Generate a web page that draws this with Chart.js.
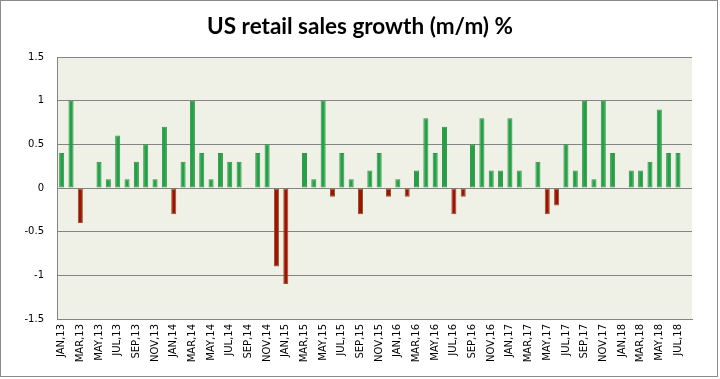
<!DOCTYPE html>
<html>
<head>
<meta charset="utf-8">
<title>US retail sales growth</title>
<script src="https://cdn.jsdelivr.net/npm/chart.js@4/dist/chart.umd.min.js"></script>
<style>
  html, body { margin: 0; padding: 0; background: #fff; }
  #wrap { width: 720px; height: 379px; }
</style>
</head>
<body>
<div id="wrap"><canvas id="myChart" width="720" height="379"></canvas></div>
<script>
'use strict';

// ******* DATA *******
let chartTitle = 'US retail sales growth (m/m) %';

let months = [
  'JAN,13', 'FEB,13', 'MAR,13', 'APR,13', 'MAY,13', 'JUN,13', 'JUL,13', 'AUG,13', 'SEP,13', 'OCT,13', 'NOV,13', 'DEC,13',
  'JAN,14', 'FEB,14', 'MAR,14', 'APR,14', 'MAY,14', 'JUN,14', 'JUL,14', 'AUG,14', 'SEP,14', 'OCT,14', 'NOV,14', 'DEC,14',
  'JAN,15', 'FEB,15', 'MAR,15', 'APR,15', 'MAY,15', 'JUN,15', 'JUL,15', 'AUG,15', 'SEP,15', 'OCT,15', 'NOV,15', 'DEC,15',
  'JAN,16', 'FEB,16', 'MAR,16', 'APR,16', 'MAY,16', 'JUN,16', 'JUL,16', 'AUG,16', 'SEP,16', 'OCT,16', 'NOV,16', 'DEC,16',
  'JAN,17', 'FEB,17', 'MAR,17', 'APR,17', 'MAY,17', 'JUN,17', 'JUL,17', 'AUG,17', 'SEP,17', 'OCT,17', 'NOV,17', 'DEC,17',
  'JAN,18', 'FEB,18', 'MAR,18', 'APR,18', 'MAY,18', 'JUN,18', 'JUL,18', 'AUG,18'
];

let growth = [
  0.4, 1.0, -0.4, 0, 0.3, 0.1, 0.6, 0.1, 0.3, 0.5, 0.1, 0.7,
  -0.3, 0.3, 1.0, 0.4, 0.1, 0.4, 0.3, 0.3, 0, 0.4, 0.5, -0.9,
  -1.1, 0, 0.4, 0.1, 1.0, -0.1, 0.4, 0.1, -0.3, 0.2, 0.4, -0.1,
  0.1, -0.1, 0.2, 0.8, 0.4, 0.7, -0.3, -0.1, 0.5, 0.8, 0.2, 0.2,
  0.8, 0.2, 0, 0.3, -0.3, -0.2, 0.5, 0.2, 1.0, 0.1, 1.0, 0.4,
  0, 0.2, 0.2, 0.3, 0.9, 0.4, 0.4, null
];

let yTicks = [-1.5, -1, -0.5, 0, 0.5, 1, 1.5];

// ******* STYLE *******
let upFill = '#1fa346';
let upBorder = '#3d8f4a';
let downFill = '#a30f00';
let downBorder = '#8c5a2c';
let gridColor = '#848484';
let plotBg = '#eff1e7';

// ****** PLUGINS ******
let backgroundPlugin = {
  id: 'backgroundPlugin',
  beforeDraw(chart) {
    let ctx = chart.ctx;
    let area = chart.chartArea;
    ctx.save();
    ctx.fillStyle = '#ffffff';
    ctx.fillRect(0, 0, chart.width, chart.height);
    ctx.fillStyle = plotBg;
    ctx.fillRect(area.left, area.top, area.right - area.left, area.bottom - area.top);
    ctx.strokeStyle = '#8a8a8a';
    ctx.lineWidth = 1;
    ctx.strokeRect(0.5, 0.5, 717, 376);
    ctx.restore();
  }
};

// title is centred on the whole page, not on the padded chart box
let pageTitlePlugin = {
  id: 'pageTitlePlugin',
  afterDraw(chart) {
    let ctx = chart.ctx;
    ctx.save();
    ctx.font = 'bold 22.5px Lato';
    ctx.fillStyle = '#000000';
    ctx.textAlign = 'center';
    ctx.textBaseline = 'middle';
    ctx.fillText(chartTitle, 360, 27);
    ctx.restore();
  }
};

// ****** CHART ******
const ctx = document.getElementById('myChart').getContext('2d');
const myChart = new Chart(ctx, {
  type: 'bar',
  data: {
    labels: months,
    datasets: [{
      data: growth,
      backgroundColor: (c) => (c.raw < 0 ? downFill : upFill),
      borderColor: (c) => (c.raw < 0 ? downBorder : upBorder),
      borderWidth: (c) => (c.raw ? 1 : 0),
      borderSkipped: false,
      barPercentage: 0.54,
      categoryPercentage: 1
    }]
  },
  options: {
    responsive: false,
    animation: false,
    devicePixelRatio: 1,
    layout: {
      padding: { left: 0, right: 28, top: 57, bottom: 0 }
    },
    plugins: {
      legend: { display: false },
      tooltip: { enabled: false },
      title: { display: false }
    },
    scales: {
      x: {
        grid: { display: false, drawTicks: false },
        border: { display: true, color: gridColor, width: 1 },
        ticks: {
          autoSkip: false,
          minRotation: 90,
          maxRotation: 90,
          padding: 5,
          color: '#000000',
          font: { family: 'DejaVu Sans', size: 10 },
          callback: function (value, index) {
            return index % 2 === 0 ? months[index] : '';
          }
        },
        afterFit: function (scale) {
          scale.height = 60;
        }
      },
      y: {
        min: yTicks[0],
        max: yTicks[yTicks.length - 1],
        grid: { color: gridColor, drawTicks: false, lineWidth: 1 },
        border: { display: true, color: gridColor, width: 1 },
        afterBuildTicks: function (scale) {
          scale.ticks = yTicks.map((v) => ({ value: v }));
        },
        ticks: {
          padding: 13,
          color: '#000000',
          font: { family: 'DejaVu Sans', size: 10 },
          callback: function (value) {
            return String(value);
          }
        },
        afterFit: function (scale) {
          scale.width = 57;
        }
      }
    }
  },
  plugins: [backgroundPlugin, pageTitlePlugin]
});
</script>
</body>
</html>
